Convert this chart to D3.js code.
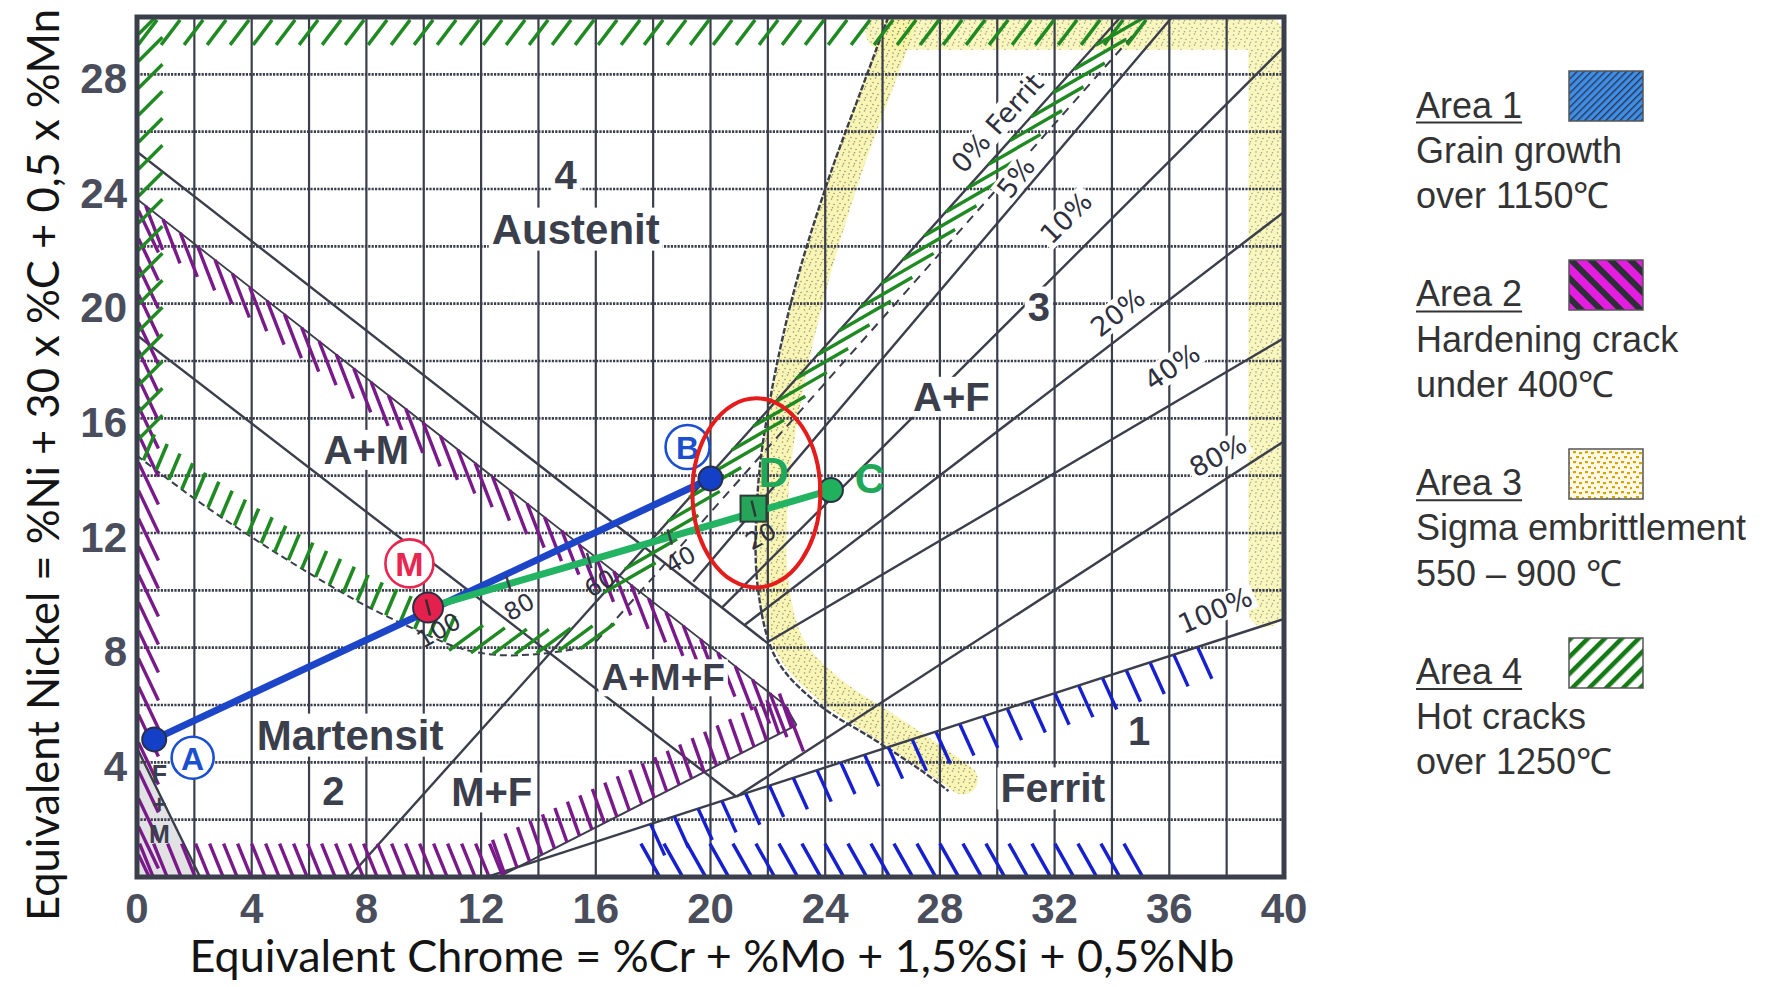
<!DOCTYPE html>
<html>
<head>
<meta charset="utf-8">
<script src="https://cdn.jsdelivr.net/npm/d3@7"></script>
<style>
  html, body { margin: 0; padding: 0; background: #fff; }
  svg { display: block; }
</style>
</head>
<body>
<svg id="chart" width="1773" height="987"></svg>
<script>
// ---------- axis values ----------
const crTicks = [0, 4, 8, 12, 16, 20, 24, 28, 32, 36, 40];
const niTicks = [4, 8, 12, 16, 20, 24, 28];
const crDomain = [0, 40];
const niDomain = [0, 30];

// ---------- phase boundaries (Cr-eq, Ni-eq) ----------
const lineAusteniteAM = [[0, 25.3], [22.0, 8.15]];
const lineMartensiteAM = [[0, 18.9], [20.9, 2.8]];
const lineFM = [[0, 4.5], [2.2, 0]];
const ferriteNames = ["0%", "5%", "10%", "20%", "40%", "80%", "100%"];
const ferriteStart = [[7.4, 0], [19.4, 10.3], [20.4, 9.4], [21.2, 8.8], [22.0, 8.2], [20.9, 2.8], [12.2, 0]];
const ferriteEnd = [[34.3, 30], [36.1, 30], [40, 28.96], [40, 23.2], [40, 18.8], [40, 15.2], [40, 9.0]];

// ---------- problem areas ----------
// area 1: grain growth (ferrite side)
const area1Bottom = [[17.8, 0.05], [35.8, 0.05]];
const area1Edge = [[17.5, 1.7], [37.0, 8.0]];
// area 2: hardening cracks (martensite side)
const area2Left = [[0.05, 0.3], [0.05, 23.4]];
const area2Bottom = [[0.3, 0.05], [13.0, 0.05]];
const area2Diag = [[0.0, 23.65], [22.6, 6.0], [23.0, 5.3]];
const area2Rise = [[12.6, 0], [23.0, 5.3]];
// area 3: sigma embrittlement
const area3Edge = [[26.2, 30], [25.2, 27.3], [24.1, 24.3], [22.9, 20.4], [22.05, 16.5], [21.65, 13.5], [21.65, 10.1], [22.3, 7.6], [23.8, 6.0], [25.7, 4.8], [27.3, 3.75], [28.3, 3.0]];
const area3Arm = [[26.8, 30.2], [25.8, 27.5], [24.7, 24.5], [23.5, 20.5], [22.6, 16.5], [22.2, 13.5], [22.2, 10.2], [22.8, 8.0], [24.2, 6.5], [26.0, 5.3], [27.6, 4.25], [28.8, 3.4]];
const area3Rim = [[26.0, 29.45], [39.35, 29.45], [39.35, 9.3]];
// area 4: hot cracks (austenite side)
const area4Top = [[0.3, 29.9], [35.3, 29.9]];
const area4Left = [[0.05, 14.8], [0.05, 29.6]];
const area4Curve = [[0, 14.7], [2, 13.2], [4, 11.85], [6, 10.6], [8, 9.45], [10, 8.5], [11.2, 8.0], [12.5, 7.75], [14.0, 7.78], [15.6, 8.0]];
const area4CurveRise = [[10.5, 7.95], [12, 7.78], [13.5, 7.76], [15.8, 8.0]];
const area4Ridge = [[15.9, 9.5], [33.6, 29.2]];
const area4Inner = [[16.0, 8.2], [35.3, 30]];

// ---------- weld points ----------
const weldIds = ["A", "B", "M", "C", "D"];
const weldCr = [0.6, 20.0, 10.15, 24.2, 21.5];
const weldNi = [4.8, 13.9, 9.4, 13.5, 12.85];
const dilutionPct = [100, 80, 60, 40, 20];

// ---------- texts ----------
const regionTexts = ["4", "Austenit", "A+M", "3", "A+F", "A+M+F", "Martensit", "2", "M+F", "1", "Ferrit"];
const legendTitles = ["Area 1", "Area 2", "Area 3", "Area 4"];
const legendLine1 = ["Grain growth", "Hardening crack", "Sigma embrittlement", "Hot cracks"];
const legendLine2 = ["over 1150\u2103", "under 400\u2103", "550 \u2013 900 \u2103", "over 1250\u2103"];
const xTitle = "Equivalent Chrome = %Cr + %Mo + 1,5%Si + 0,5%Nb";
const yTitle = "Equivalent Nickel = %Ni + 30 x %C + 0,5 x %Mn";

// ---------- layout ----------
const x = d3.scaleLinear().domain(crDomain).range([137, 1284]);
const y = d3.scaleLinear().domain(niDomain).range([877, 17]);
const INK = "#3b3e4b";
const GREEN = "#1f8a22", PURPLE = "#7a1a8a", BLUE = "#1620cf";

const svg = d3.select("#chart");
const defs = svg.append("defs");
defs.append("clipPath").attr("id", "plotClip").append("rect")
  .attr("x", x(0)).attr("y", y(30)).attr("width", x(40) - x(0)).attr("height", y(0) - y(30));

// stippled yellow paint for the sigma area
const st = defs.append("pattern").attr("id", "stipple").attr("patternUnits", "userSpaceOnUse")
  .attr("width", 11).attr("height", 11);
st.append("rect").attr("width", 11).attr("height", 11).attr("fill", "#f7f3a2");
[[1.5, 2], [6.5, 1], [4, 5.5], [9, 6.5], [2, 9], [7.5, 9.8]].forEach(p =>
  st.append("circle").attr("cx", p[0]).attr("cy", p[1]).attr("r", 0.8).attr("fill", "#77765a"));

// legend swatch paints
function stripes(id, bg, color, w, gap, angle) {
  const p = defs.append("pattern").attr("id", id).attr("patternUnits", "userSpaceOnUse")
    .attr("width", gap).attr("height", gap).attr("patternTransform", `rotate(${angle})`);
  p.append("rect").attr("width", gap).attr("height", gap).attr("fill", bg);
  p.append("rect").attr("x", 0).attr("width", w).attr("height", gap).attr("fill", color);
}
stripes("sw1", "#3e8fe8", "#2c3550", 1.4, 5, 45);
stripes("sw2", "#e51de0", "#2e2e38", 6, 14, -45);
stripes("sw4", "#ffffff", "#137a14", 4.5, 12, 45);
const p3 = defs.append("pattern").attr("id", "sw3").attr("patternUnits", "userSpaceOnUse")
  .attr("width", 12).attr("height", 10);
p3.append("rect").attr("width", 12).attr("height", 10).attr("fill", "#fffbe8");
[[1, 1], [7, 2], [4, 6], [10, 7]].forEach(p =>
  p3.append("rect").attr("x", p[0]).attr("y", p[1]).attr("width", 3).attr("height", 2.2).attr("fill", "#d9a400"));

const line = d3.line().x(d => x(d[0])).y(d => y(d[1]));
const curve = d3.line().x(d => x(d[0])).y(d => y(d[1])).curve(d3.curveCatmullRom.alpha(0.5));

const plot = svg.append("g").attr("clip-path", "url(#plotClip)");

// F+M corner shading
plot.append("path")
  .attr("d", line([[0, 0], [0, lineFM[0][1]], lineFM[1]]) + "Z")
  .attr("fill", "#c6c6ca").attr("opacity", 0.5);

// sigma area (yellow stippled band)
plot.append("path").attr("d", curve(area3Arm)).attr("fill", "none")
  .attr("stroke", "url(#stipple)").attr("stroke-width", 30).attr("stroke-linecap", "round")
  .attr("stroke-linejoin", "round").attr("opacity", 0.8);
plot.append("path").attr("d", line(area3Rim)).attr("fill", "none")
  .attr("stroke", "url(#stipple)").attr("stroke-width", 34).attr("stroke-linecap", "round")
  .attr("stroke-linejoin", "round").attr("opacity", 0.7);

// grid
const grid = plot.append("g");
grid.selectAll(".gv").data(d3.range(2, 40, 2)).join("line")
  .attr("x1", d => x(d)).attr("x2", d => x(d)).attr("y1", y(30)).attr("y2", y(0))
  .attr("stroke", INK).attr("stroke-width", 2.2);
grid.selectAll(".gh").data(d3.range(2, 30, 2)).join("line")
  .attr("x1", x(0)).attr("x2", x(40)).attr("y1", d => y(d)).attr("y2", d => y(d))
  .attr("stroke", INK).attr("stroke-width", 2.6).attr("stroke-dasharray", "2.2,1.2");

// phase boundaries
const phase = plot.append("g").attr("fill", "none").attr("stroke", INK).attr("stroke-width", 2.4);
[lineAusteniteAM, lineMartensiteAM, lineFM].forEach(l => phase.append("path").attr("d", line(l)));
ferriteNames.forEach((n, i) => phase.append("path").attr("d", line([ferriteStart[i], ferriteEnd[i]])));
phase.append("path").attr("d", curve(area3Edge)).attr("stroke-dasharray", "6,2");
phase.append("path").attr("d", line(area2Diag)).attr("stroke-width", 1.8);
phase.append("path").attr("d", line(area2Rise)).attr("stroke-width", 2);
phase.append("path").attr("d", curve(area4Curve)).attr("stroke-dasharray", "7,4").attr("stroke-width", 2);
phase.append("path").attr("d", line(area4Inner)).attr("stroke-dasharray", "9,7").attr("stroke-width", 2);

// hatching along a boundary
function sampleAlong(pts, spacing) {
  const P = pts.map(p => [x(p[0]), y(p[1])]);
  const out = [];
  let d = spacing / 2;
  for (let i = 0; i < P.length - 1; i++) {
    const [ax, ay] = P[i], [bx, by] = P[i + 1];
    const L = Math.hypot(bx - ax, by - ay);
    while (d <= L) { out.push([ax + (bx - ax) * d / L, ay + (by - ay) * d / L]); d += spacing; }
    d -= L;
  }
  return out;
}
function hatch(pts, spacing, vec, color, w) {
  plot.append("g").selectAll("line").data(sampleAlong(pts, spacing)).join("line")
    .attr("x1", d => d[0]).attr("y1", d => d[1])
    .attr("x2", d => d[0] + vec[0]).attr("y2", d => d[1] + vec[1])
    .attr("stroke", color).attr("stroke-width", w).attr("stroke-linecap", "butt");
}
// area 2 – purple
hatch(area2Left, 28, [20, 42], PURPLE, 3.4);
hatch(area2Bottom, 14, [-13, -32], PURPLE, 3.4);
hatch(area2Diag, 22, [17, 44], PURPLE, 3.4);
hatch(area2Rise, 14, [-12, -34], PURPLE, 3.4);
// area 4 – green
hatch(area4Top, 23, [-19, 25], GREEN, 3.4);
hatch(area4Left, 27, [24, -24], GREEN, 3.4);
hatch(area4Curve.slice(0, 7), 16, [11, -26], GREEN, 3.6);
hatch(area4CurveRise, 22, [34, -25], GREEN, 3.4);
hatch(area4Ridge, 32, [52, -30], GREEN, 3.4);
// area 1 – blue
hatch(area1Bottom, 23, [-18, -32], BLUE, 3.4);
hatch(area1Edge, 25, [14, 31], BLUE, 3.4);

// plot frame
svg.append("rect").attr("x", x(0)).attr("y", y(30)).attr("width", x(40) - x(0)).attr("height", y(0) - y(30))
  .attr("fill", "none").attr("stroke", INK).attr("stroke-width", 5);

// label helper with white backing
function label(parent, text, px, py, opts) {
  const g = parent.append("g").attr("transform", `translate(${px},${py}) rotate(${opts.rot || 0})`);
  const t = g.append("text").text(text)
    .attr("text-anchor", "middle").attr("dominant-baseline", "central")
    .attr("font-family", opts.family || "Liberation Sans, Arial, sans-serif")
    .attr("font-weight", opts.weight || "bold").attr("font-size", opts.size)
    .attr("fill", opts.fill || INK);
  if (opts.bg) {
    const b = t.node().getBBox();
    g.insert("rect", "text").attr("x", b.x - 3).attr("y", b.y + 2).attr("width", b.width + 6)
      .attr("height", b.height - 4).attr("fill", "#fff");
  }
  return g;
}

// region names
const labels = svg.append("g");
const regionAt = [[14.95, 24.5], [15.3, 22.6], [8.0, 14.9], [31.45, 19.9], [28.4, 16.75], [18.35, 6.95],
  [7.43, 4.95], [6.85, 3.0], [12.37, 2.95], [34.95, 5.1], [31.94, 3.09]];
const regionSize = [40, 42, 40, 40, 40, 37, 42, 40, 40, 40, 41];
regionTexts.forEach((t, i) => label(labels, t, x(regionAt[i][0]), y(regionAt[i][1]),
  { size: regionSize[i], bg: true }));
["F", "+", "M"].forEach((t, i) => label(labels, t, x(0.78), y(3.6 - i * 1.05), { size: 25 }));

// ferrite percentage labels
const ferriteLabelAt = [[30.0, 26.3], [30.65, 24.4], [32.4, 23.0], [34.2, 19.7], [36.1, 17.8], [37.7, 14.7], [37.6, 9.3]];
const ferriteLabelRot = [-48, -52, -45, -38, -34, -28, -23];
ferriteNames.forEach((n, i) => label(labels, i === 0 ? "0% Ferrit" : n,
  x(ferriteLabelAt[i][0]), y(ferriteLabelAt[i][1]),
  { size: 27, weight: "normal", rot: ferriteLabelRot[i], bg: true, fill: "#2e3040", family: "DejaVu Sans, sans-serif" }));

// axis tick labels
const axes = svg.append("g").attr("font-family", "Liberation Sans, Arial, sans-serif")
  .attr("font-weight", "bold").attr("font-size", 42).attr("fill", "#4a4d5b");
axes.selectAll(".tx").data(crTicks).join("text")
  .attr("x", d => x(d)).attr("y", 923).attr("text-anchor", "middle").text(d => d);
axes.selectAll(".ty").data(niTicks).join("text")
  .attr("x", 127).attr("y", d => y(d) + 4).attr("text-anchor", "end")
  .attr("dominant-baseline", "central").text(d => d);

// axis titles
svg.append("text").text(xTitle).attr("x", 712).attr("y", 972).attr("text-anchor", "middle")
  .attr("font-family", "Lato, DejaVu Sans, sans-serif").attr("font-size", 44).attr("fill", "#141414")
  .attr("textLength", 1045).attr("lengthAdjust", "spacingAndGlyphs");
svg.append("text").text(yTitle).attr("transform", "translate(42,465) rotate(-90)")
  .attr("text-anchor", "middle").attr("dominant-baseline", "central")
  .attr("font-family", "Lato, DejaVu Sans, sans-serif").attr("font-size", 44).attr("fill", "#141414")
  .attr("textLength", 912).attr("lengthAdjust", "spacingAndGlyphs");

// ---------- weld path annotations ----------
const pt = id => { const i = weldIds.indexOf(id); return [weldCr[i], weldNi[i]]; };
const ann = svg.append("g");
ann.append("path").attr("d", line([pt("A"), pt("B")])).attr("stroke", "#1c45c8")
  .attr("stroke-width", 7).attr("fill", "none");
ann.append("path").attr("d", line([pt("M"), pt("C")])).attr("stroke", "#22b463")
  .attr("stroke-width", 7).attr("fill", "none");

// dilution ticks and labels along M -> C
const M = pt("M"), C = pt("C");
const mx = x(M[0]), my = y(M[1]), cx = x(C[0]), cy = y(C[1]);
const len = Math.hypot(cx - mx, cy - my), ux = (cx - mx) / len, uy = (cy - my) / len;
const nx = -uy, ny = ux; // normal pointing below the line
dilutionPct.forEach(p => {
  const f = 1 - p / 100;
  const px = mx + (cx - mx) * f, py = my + (cy - my) * f;
  ann.append("line").attr("x1", px - nx * 8).attr("y1", py - ny * 8).attr("x2", px + nx * 8).attr("y2", py + ny * 8)
    .attr("stroke", INK).attr("stroke-width", 2.4);
  label(ann, p, px + nx * 24 + 4, py + ny * 24, { size: 24, weight: "normal", rot: -30, fill: "#2e3040", family: "DejaVu Sans, sans-serif" });
});

// point markers
const dot = (id, r, fill) => ann.append("circle").attr("cx", x(pt(id)[0])).attr("cy", y(pt(id)[1]))
  .attr("r", r).attr("fill", fill).attr("stroke", "#2b2f45").attr("stroke-width", 2);
dot("A", 12, "#1440c8");
dot("B", 12, "#1440c8");
dot("C", 12, "#21b05c");
dot("M", 15, "#e4204c");
ann.append("line").attr("x1", mx - 2).attr("y1", my - 8).attr("x2", mx + 2).attr("y2", my + 8)
  .attr("stroke", "#3a2a30").attr("stroke-width", 2.5);
ann.append("rect").attr("x", x(pt("D")[0]) - 13).attr("y", y(pt("D")[1]) - 13).attr("width", 26).attr("height", 26)
  .attr("fill", "#25a45a").attr("stroke", "#2b3b35").attr("stroke-width", 2);
ann.append("line").attr("x1", x(pt("D")[0]) - 2).attr("y1", y(pt("D")[1]) - 8)
  .attr("x2", x(pt("D")[0]) + 2).attr("y2", y(pt("D")[1]) + 8).attr("stroke", "#2b3b35").attr("stroke-width", 2.4);

// point names
const nameAt = { A: [1.94, 4.16], B: [19.2, 15.0], M: [9.5, 10.94], D: [22.2, 14.1], C: [25.56, 13.9] };
[["A", "#1a4fd0", 21], ["B", "#1a4fd0", 22], ["M", "#e8264f", 24]].forEach(([id, col, r]) => {
  const [a, b] = nameAt[id];
  ann.append("circle").attr("cx", x(a)).attr("cy", y(b)).attr("r", r)
    .attr("fill", "#fff").attr("stroke", col).attr("stroke-width", 2.6);
  label(ann, id, x(a), y(b) + 1, { size: id === "M" ? 34 : 32, fill: col });
});
["D", "C"].forEach(id => label(ann, id, x(nameAt[id][0]), y(nameAt[id][1]),
  { size: 42, weight: "bold", fill: "#1fa85a", family: "Liberation Sans, Arial, sans-serif" }));

// highlight ellipse
const ringCenter = [21.6, 13.4], ringRadius = [2.23, 3.3];
ann.append("ellipse").attr("cx", x(ringCenter[0])).attr("cy", y(ringCenter[1]))
  .attr("rx", x(ringRadius[0]) - x(0)).attr("ry", y(0) - y(ringRadius[1]))
  .attr("fill", "none").attr("stroke", "#e41c1c").attr("stroke-width", 4);

// ---------- legend ----------
const leg = svg.append("g").attr("font-family", "Liberation Sans, Arial, sans-serif")
  .attr("font-size", 36).attr("fill", "#333");
const swatchFill = ["url(#sw1)", "url(#sw2)", "url(#sw3)", "url(#sw4)"];
legendTitles.forEach((t, i) => {
  const base = 117.6 + i * 188.8;
  const tt = leg.append("text").attr("x", 1416).attr("y", base).text(t);
  const w = tt.node().getComputedTextLength();
  leg.append("line").attr("x1", 1416).attr("x2", 1416 + w).attr("y1", base + 5).attr("y2", base + 5)
    .attr("stroke", "#333").attr("stroke-width", 2);
  leg.append("text").attr("x", 1416).attr("y", base + 45.2).text(legendLine1[i]);
  leg.append("text").attr("x", 1416).attr("y", base + 90.4).text(legendLine2[i]);
  leg.append("rect").attr("x", 1569).attr("y", 71 + i * 189).attr("width", 74).attr("height", 50)
    .attr("fill", swatchFill[i]).attr("stroke", "#555").attr("stroke-width", 1.5);
});
</script>
</body>
</html>
